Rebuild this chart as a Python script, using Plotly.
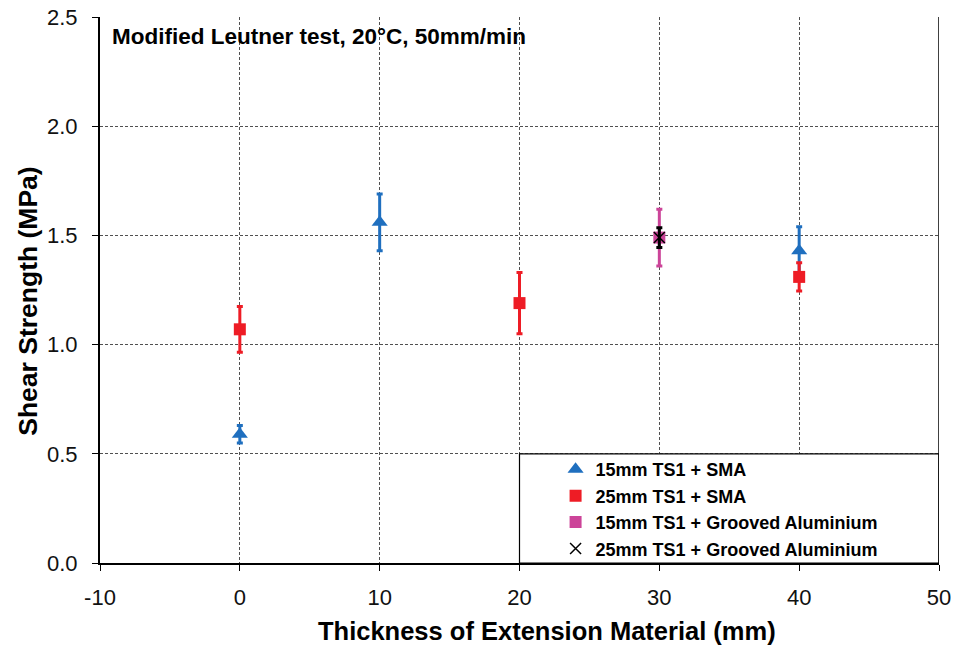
import plotly.graph_objects as go

# Shear strength measurements (mean and error half-width), per specimen configuration
thickness_15_sma = [0, 10, 40]
strength_15_sma = [0.59, 1.56, 1.43]
err_15_sma = [0.04, 0.13, 0.11]

thickness_25_sma = [0, 20, 40]
strength_25_sma = [1.07, 1.19, 1.31]
err_25_sma = [0.105, 0.14, 0.065]

thickness_15_alu = [30]
strength_15_alu = [1.49]
err_15_alu = [0.13]

thickness_25_alu = [30]
strength_25_alu = [1.49]
err_25_alu = [0.045]

x_ticks = [-10, 0, 10, 20, 30, 40, 50]
y_ticks = [0.0, 0.5, 1.0, 1.5, 2.0, 2.5]

FONT = "Liberation Sans, Arial, sans-serif"
BLUE = "#1f6fbf"
RED = "#ee1c25"
PINK = "#cc4499"

fig = go.Figure()


def add_series(name, xs, ys, errs, color, symbol, size, group, line_w=0):
    fig.add_trace(go.Scatter(
        x=xs, y=ys, mode="markers", name=name, legendgroup=group,
        marker=dict(symbol=symbol, size=size, color=color,
                    line=dict(width=line_w, color=color)),
        error_y=dict(type="data", array=errs, visible=True,
                     color=color, thickness=3, width=3),
    ))


add_series("15mm TS1 + SMA", thickness_15_sma, strength_15_sma, err_15_sma,
           BLUE, "triangle-up", 14, "a")
add_series("25mm TS1 + SMA", thickness_25_sma, strength_25_sma, err_25_sma,
           RED, "square", 12, "b")
add_series("15mm TS1 + Grooved Aluminium", thickness_15_alu, strength_15_alu, err_15_alu,
           PINK, "square", 12, "c")
add_series("25mm TS1 + Grooved Aluminium", thickness_25_alu, strength_25_alu, err_25_alu,
           "black", "x-thin-open", 11, "d", line_w=1.5)

# White legend panel in the lower-right corner of the plot area
fig.add_shape(type="rect", xref="x", yref="y", x0=20, x1=50, y0=0, y1=0.5,
              fillcolor="white", line=dict(color="black", width=1.2), layer="between")
# Solid right border; top border stays as the dashed grid line
fig.add_shape(type="line", xref="x", yref="paper", x0=50, x1=50, y0=0, y1=1,
              line=dict(color="black", width=1.5), layer="above")

fig.add_annotation(text="Modified Leutner test, 20°C, 50mm/min",
                   xref="paper", yref="paper", x=0.012, y=0.965,
                   xanchor="left", yanchor="middle", showarrow=False,
                   font=dict(family=FONT, size=22.5, color="black", weight="bold"))

# Axis titles
fig.add_annotation(text="Thickness of Extension Material (mm)",
                   xref="paper", yref="paper", x=0.533, y=-0.125,
                   xanchor="center", yanchor="middle", showarrow=False,
                   font=dict(family=FONT, size=25.5, color="black", weight="bold"))
fig.add_annotation(text="Shear Strength (MPa)", textangle=-90,
                   xref="paper", yref="paper", x=-0.086, y=0.48,
                   xanchor="center", yanchor="middle", showarrow=False,
                   font=dict(family=FONT, size=26.5, color="black", weight="bold"))

grid = dict(showgrid=True, gridcolor="#505050", gridwidth=1, griddash="3px,2px")

fig.update_xaxes(
    range=[-10, 50], tickvals=x_ticks, ticktext=[str(v) for v in x_ticks],
    ticks="outside", ticklen=6, tickcolor="black", tickwidth=1,
    ticklabelstandoff=8,
    showline=True, linecolor="black", linewidth=1.5, zeroline=False,
    automargin=False,
    tickfont=dict(family=FONT, size=22, color="#111111"),
    **grid,
)
fig.update_yaxes(
    range=[0, 2.5], tickvals=y_ticks, ticktext=[f"{v:.1f}" for v in y_ticks],
    ticks="outside", ticklen=6, tickcolor="black", tickwidth=1,
    ticklabelstandoff=10,
    showline=True, linecolor="black", linewidth=2, zeroline=False,
    automargin=False,
    tickfont=dict(family=FONT, size=22, color="#111111"),
    **grid,
)

fig.update_layout(
    width=956, height=645,
    margin=dict(l=100, r=17, t=17, b=82, autoexpand=False),
    paper_bgcolor="white", plot_bgcolor="white",
    showlegend=True,
    legend=dict(x=0.543, y=0.205, xanchor="left", yanchor="top",
                bgcolor="rgba(0,0,0,0)", borderwidth=0, tracegroupgap=0,
                font=dict(family=FONT, size=18, color="black", weight="bold")),
)

fig.write_html("out.html")
